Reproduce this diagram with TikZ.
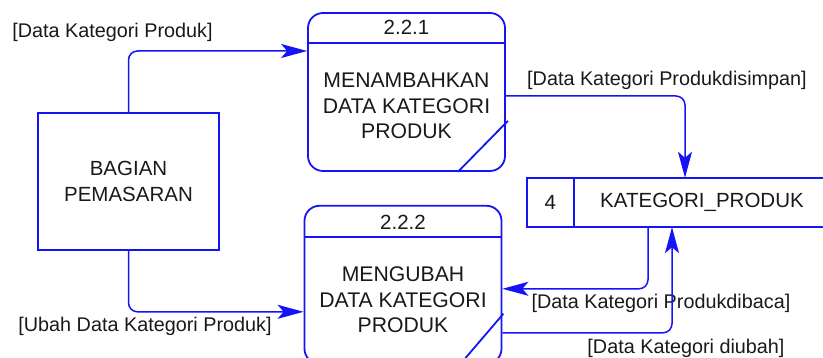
\documentclass[tikz,border=0pt]{standalone}
\usepackage{fontspec}
\setmainfont{Liberation Sans}
\usepackage{xcolor}
\usetikzlibrary{arrows.meta, calc, positioning}
\definecolor{FlowBlue}{RGB}{20, 20, 245}
\definecolor{TextGray}{RGB}{25, 25, 25}

\begin{document}
\begin{tikzpicture}[
        x=1pt, y=1pt,
        font=\fontsize{20.5}{25.5}\selectfont,
        every node/.style = {text=TextGray, inner sep=0pt},
        entity/.style = {draw=FlowBlue, line width=1.8pt, minimum width=181pt, minimum height=137pt, align=center},
        proc/.style = {draw=FlowBlue, line width=1.8pt, rounded corners=15pt, minimum width=197pt, minimum height=158pt},
        procline/.style = {draw=FlowBlue, line width=1.8pt},
        storebox/.style = {minimum width=296pt, minimum height=49pt},
        flow/.style = {draw=FlowBlue, line width=1.5pt, rounded corners=9pt, -{Stealth[length=26pt, width=14pt, inset=6pt]}},
        flowlabel/.style = {font=\fontsize{19.8}{22}\selectfont}
    ]
        \useasboundingbox (0,0) rectangle (823,358);

        % External entity
        \node (bagian) [entity] at (128.5,176.5) {BAGIAN\\PEMASARAN};

        % Process 2.2.1
        \node (p1) [proc] at (406.5,266) {};
        \draw [procline] ([yshift=-31pt]p1.north west) -- ([yshift=-31pt]p1.north east);
        \draw [procline] ([xshift=-48pt]p1.south east) -- ([xshift=2pt, yshift=51pt]p1.south east);
        \node (p1num) at ([yshift=-15.5pt]p1.north) {2.2.1};
        \node (p1txt) [align=center, font=\fontsize{21.2}{25.5}\selectfont] at ([yshift=-14pt]p1.center) {MENAMBAHKAN\\DATA KATEGORI\\PRODUK};

        % Process 2.2.2
        \node (p2) [proc, below=33pt of p1, xshift=-3.5pt] {};
        \draw [procline] ([yshift=-32pt]p2.north west) -- ([yshift=-32pt]p2.north east);
        \draw [procline] ([xshift=-46pt, yshift=-4pt]p2.south east) -- ([xshift=1pt, yshift=51pt]p2.south east);
        \node (p2num) at ([yshift=-17pt]p2.north) {2.2.2};
        \node (p2txt) [align=center, font=\fontsize{21.2}{25.5}\selectfont] at ([yshift=-15pt]p2.center) {MENGUBAH\\DATA KATEGORI\\PRODUK};

        % Data store
        \node (store) [storebox] at (675,155.5) {};
        \draw [procline] (store.north east) -- (store.north west) -- (store.south west) -- (store.south east);
        \draw [procline] ([xshift=47pt]store.north west) -- ([xshift=47pt]store.south west);
        \node (storenum) at ([xshift=23.5pt]store.west) {4};
        \node (storetxt) at ([xshift=27pt]store.center) {KATEGORI\_PRODUK};

        % Flows
        \draw [flow] (bagian.north) |- ([yshift=41pt]p1.west);
        \node (lbl1) [flowlabel] at (112.5,326) {[Data Kategori Produk]};

        \draw [flow] ([yshift=-4pt]p1.east) -| ([xshift=10pt]store.north);
        \node (lbl2) [flowlabel] at (667,278) {[Data Kategori Produkdisimpan]};

        \draw [flow] ([xshift=-27pt]store.south) |- ([yshift=-4pt]p2.east);
        \node (lbl3) [flowlabel] at (661,55) {[Data Kategori Produkdibaca]};

        \draw [flow] ([yshift=-48pt]p2.east) -| ([xshift=-3pt]store.south);
        \node (lbl4) [flowlabel] at (686,10) {[Data Kategori diubah]};

        \draw [flow] (bagian.south) |- ([yshift=-27pt]p2.west);
        \node (lbl5) [flowlabel] at (145,32) {[Ubah Data Kategori Produk]};
    \end{tikzpicture}
\end{document}
